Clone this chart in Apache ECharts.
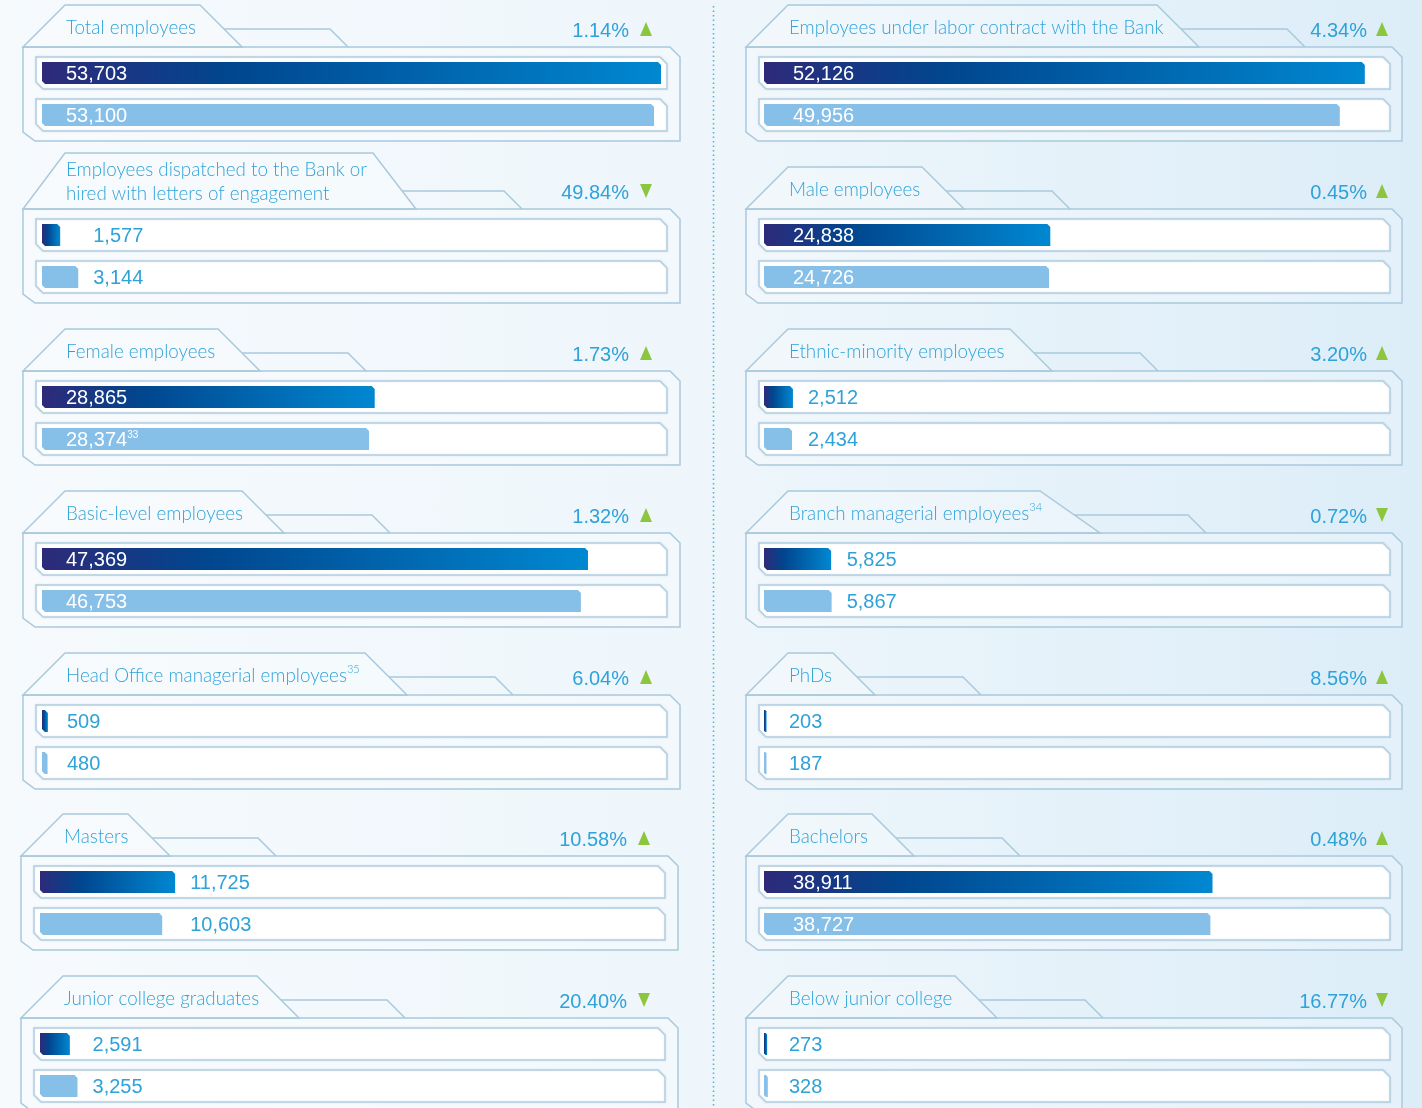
<!DOCTYPE html>
<html><head><meta charset="utf-8">
<script src="https://cdn.jsdelivr.net/npm/echarts@6/dist/echarts.min.js"></script>
<style>
html,body{margin:0;padding:0;width:1422px;height:1108px;overflow:hidden;}
body{background:linear-gradient(90deg,#f6fafd 0%,#eef6fb 50%,#dcedf8 100%);}
#c{width:1422px;height:1108px;}
</style></head>
<body><div id="c"></div>
<script>
// ---------------- DATA ----------------
const titles = [
  'Total employees',
  'Employees dispatched to the Bank or\nhired with letters of engagement',
  'Female employees',
  'Basic-level employees',
  'Head Office managerial employees',
  'Masters',
  'Junior college graduates',
  'Employees under labor contract with the Bank',
  'Male employees',
  'Ethnic-minority employees',
  'Branch managerial employees',
  'PhDs',
  'Bachelors',
  'Below junior college'
];
const titleNotes = ['', '', '', '', '35', '', '', '', '', '', '34', '', '', ''];
const currentValues  = [53703, 1577, 28865, 47369, 509, 11725, 2591, 52126, 24838, 2512, 5825, 203, 38911, 273];
const previousValues = [53100, 3144, 28374, 46753, 480, 10603, 3255, 49956, 24726, 2434, 5867, 187, 38727, 328];
const previousNotes  = ['', '', '33', '', '', '', '', '', '', '', '', '', '', ''];
const changeLabels = ['1.14%', '49.84%', '1.73%', '1.32%', '6.04%', '10.58%', '20.40%', '4.34%', '0.45%', '3.20%', '0.72%', '8.56%', '0.48%', '16.77%'];
const changeDirections = ['up', 'down', 'up', 'up', 'up', 'up', 'down', 'up', 'up', 'up', 'down', 'up', 'up', 'down'];
const rowCategories = ['Current', 'Previous'];

// ---------------- LAYOUT ----------------
const rowTops = [47, 209, 371, 533, 695, 856, 1018];
const colLefts = [23, 746];
const colFrameW = [657, 656];
const panelShiftX = [0, 0, 0, 0, 0, -2, -2, 0, 0, 0, 0, 0, 0, 0];
const tabTopWidths = [135, 308, 153, 177, 300, 65, 194, 369, 134, 222, 252, 45, 84, 167];
const tabSlants = [42, 43, 42, 42, 42, 42, 42, 42, 42, 42, 60, 42, 42, 42];

const TITLE_FONT = '300 18.8px Lato';
const NUM_FONT = '20px "Liberation Sans", Arial, sans-serif';
const BLUE_TEXT = '#2ea2d9';
const LINE = '#a9c9dc';
const DARK_GRAD = {type: 'linear', x: 0, y: 0, x2: 1, y2: 0, colorStops: [
  {offset: 0, color: '#2e2a7a'}, {offset: 0.3, color: '#00468e'}, {offset: 1, color: '#0088d1'}]};
const LIGHT = '#86bfe8';

const maxValue = Math.max(...currentValues, ...previousValues);
const fmt = v => v.toLocaleString('en-US');

const chart = echarts.init(document.getElementById('c'), null, {renderer: 'canvas'});
const grids = [], xAxes = [], yAxes = [], series = [], graphics = [];

function poly(points, style, z) {
  return {type: 'polygon', shape: {points}, style, z: z || 0, silent: true};
}
function pline(points, z) {
  return {type: 'polyline', shape: {points}, style: {stroke: LINE, lineWidth: 1.5, fill: null}, z: z || 1, silent: true};
}

// divider
graphics.push({type: 'line', shape: {x1: 713.5, y1: 6, x2: 713.5, y2: 1108},
  style: {stroke: '#4ab0e2', lineWidth: 1.5, lineDash: [1.5, 3]}, z: 0, silent: true});

for (let i = 0; i < titles.length; i++) {
  const col = i < 7 ? 0 : 1, row = i % 7;
  const fl = colLefts[col] + panelShiftX[i];
  const ft = rowTops[row];
  const fw = colFrameW[col];
  const twoLine = titles[i].indexOf('\n') >= 0;
  const tabH = twoLine ? 56 : 42;
  const tabTopY = ft - tabH;
  const tl = fl + 42;
  const tr = tl + tabTopWidths[i];
  const br = tr + tabSlants[i];
  const secY = ft - 18;
  const secX0 = tr + tabSlants[i] * (tabH - 18) / tabH;
  // frame fill + outline
  graphics.push(poly([[fl, ft], [fl + fw - 10, ft], [fl + fw, ft + 10], [fl + fw, ft + 94], [fl + 12, ft + 94], [fl, ft + 85]],
    {fill: 'rgba(255,255,255,0.25)', stroke: LINE, lineWidth: 1.5}, 1));
  // tab
  graphics.push(poly([[fl, ft], [tl, tabTopY], [tr, tabTopY], [br, ft]], {fill: 'rgba(255,255,255,0.25)', stroke: LINE, lineWidth: 1.5}, 1));
  graphics.push(pline([[secX0, secY], [br + 88, secY], [br + 106, ft]], 1));
  // tracks
  for (let k = 0; k < 2; k++) {
    const tx0 = fl + 13, tx1 = fl + 644, ty0 = ft + 10 + k * 42, ty1 = ty0 + 32;
    graphics.push(poly([[tx0, ty0], [tx1 - 7, ty0], [tx1, ty0 + 7], [tx1, ty1], [tx0 + 7, ty1], [tx0, ty1 - 7]],
      {fill: '#ffffff', stroke: '#b4d0e1', lineWidth: 1.5, shadowColor: 'rgba(120,160,190,0.25)', shadowBlur: 2}, 2));
  }
  // title
  graphics.push({type: 'text', x: fl + 43, y: twoLine ? ft - 27 : ft - 19, z: 3, silent: true,
    style: {text: titles[i] + (titleNotes[i] ? '{sup|' + titleNotes[i] + '}' : ''),
      font: TITLE_FONT, fill: BLUE_TEXT, lineHeight: 24,
      align: 'left', verticalAlign: 'middle', textAlign: 'left', textVerticalAlign: 'middle',
      rich: {sup: {fontSize: 11, fontFamily: 'Lato', fontWeight: 300, fill: BLUE_TEXT, color: BLUE_TEXT, verticalAlign: 'top', lineHeight: 24, padding: [0, 0, 10, 0]}}}});
  // change
  const pctRight = col === 0 ? fl + fw - 51 : fl + fw - 35;
  graphics.push({type: 'text', x: pctRight, y: ft - 16, z: 3, silent: true,
    style: {text: changeLabels[i], font: NUM_FONT, fill: BLUE_TEXT,
      align: 'right', verticalAlign: 'middle', textAlign: 'right', textVerticalAlign: 'middle'}});
  const ax0 = col === 0 ? fl + fw - 40 : fl + fw - 26, ax1 = ax0 + 12, ac = ft - 18;
  const tri = changeDirections[i] === 'up'
    ? [[ax0, ac + 7], [ax1, ac + 7], [(ax0 + ax1) / 2, ac - 7]]
    : [[ax0, ac - 7], [ax1, ac - 7], [(ax0 + ax1) / 2, ac + 7]];
  graphics.push(poly(tri, {fill: '#8cc63f'}, 3));

  // chart grid for bars
  const barLeft = fl + (col === 0 ? 19 : 18);
  grids.push({left: barLeft, top: ft + 5, width: 619, height: 84, containLabel: false});
  xAxes.push({type: 'value', gridIndex: i, min: 0, max: maxValue, show: false});
  yAxes.push({type: 'category', gridIndex: i, data: rowCategories, inverse: true, show: false});
  const vals = [currentValues[i], previousValues[i]];
  const inside = Math.min(vals[0], vals[1]) > 20000;
  const anchor = Math.max(vals[0], vals[1]);
  const insideOff = col === 0 ? 24 : 29;
  const notes = ['', previousNotes[i]];
  series.push({
    type: 'custom', xAxisIndex: i, yAxisIndex: i, z: 5,
    data: vals.map((v, k) => [v, k, anchor]),
    renderItem: function (params, api) {
      const v = api.value(0), k = api.value(1), anc = api.value(2);
      const p0 = api.coord([0, k]), p1 = api.coord([v, k]);
      const h = 22, x0 = p0[0], x1 = Math.max(p1[0], x0 + 2.5);
      const y0 = p0[1] - h / 2, y1 = p0[1] + h / 2;
      const c = Math.min(3, (x1 - x0) / 2);
      let tx;
      if (inside) tx = x0 + insideOff;
      else tx = Math.max(api.coord([anc, k])[0] + 15, x0 + 25);
      const note = notes[k];
      return {type: 'group', children: [
        {type: 'polygon', shape: {points: [[x0, y0], [x1 - c, y0], [x1, y0 + c], [x1, y1], [x0 + c, y1], [x0, y1 - c]]},
          style: {fill: k === 0 ? DARK_GRAD : LIGHT}},
        {type: 'text', x: tx, y: p0[1] + 1,
          style: {text: fmt(v) + (note ? '{sup|' + note + '}' : ''), font: NUM_FONT,
            fill: inside ? '#ffffff' : BLUE_TEXT,
            align: 'left', verticalAlign: 'middle', textAlign: 'left', textVerticalAlign: 'middle',
            rich: {sup: {fontSize: 10, fontFamily: 'Liberation Sans', fill: '#ffffff', verticalAlign: 'top', padding: [0, 0, 10, 0]}}}}
      ]};
    }
  });
}

chart.setOption({
  backgroundColor: 'transparent',
  animation: false,
  grid: grids, xAxis: xAxes, yAxis: yAxes, series: series,
  graphic: {elements: graphics}
});
</script></body></html>
